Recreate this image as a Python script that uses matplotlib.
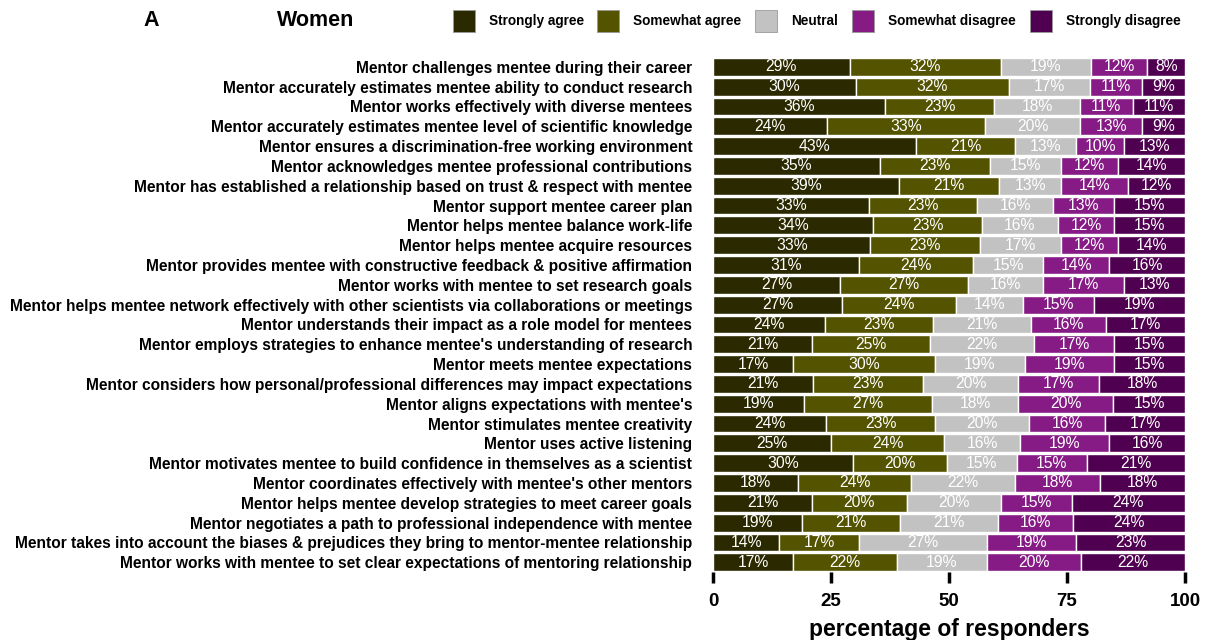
import numpy as np
import matplotlib
matplotlib.use("Agg")
import matplotlib.pyplot as plt
from matplotlib.patches import Rectangle

plt.rcParams['font.family'] = ['Liberation Sans', 'DejaVu Sans']

statements = [
    "Mentor challenges mentee during their career",
    "Mentor accurately estimates mentee ability to conduct research",
    "Mentor works effectively with diverse mentees",
    "Mentor accurately estimates mentee level of scientific knowledge",
    "Mentor ensures a discrimination-free working environment",
    "Mentor acknowledges mentee professional contributions",
    "Mentor has established a relationship based on trust & respect with mentee",
    "Mentor support mentee career plan",
    "Mentor helps mentee balance work-life",
    "Mentor helps mentee acquire resources",
    "Mentor provides mentee with constructive feedback & positive affirmation",
    "Mentor works with mentee to set research goals",
    "Mentor helps mentee network effectively with other scientists via collaborations or meetings",
    "Mentor understands their impact as a role model for mentees",
    "Mentor employs strategies to enhance mentee's understanding of research",
    "Mentor meets mentee expectations",
    "Mentor considers how personal/professional differences may impact expectations",
    "Mentor aligns expectations with mentee's",
    "Mentor stimulates mentee creativity",
    "Mentor uses active listening",
    "Mentor motivates mentee to build confidence in themselves as a scientist",
    "Mentor coordinates effectively with mentee's other mentors",
    "Mentor helps mentee develop strategies to meet career goals",
    "Mentor negotiates a path to professional independence with mentee",
    "Mentor takes into account the biases & prejudices they bring to mentor-mentee relationship",
    "Mentor works with mentee to set clear expectations of mentoring relationship",
]

responses = ["Strongly agree", "Somewhat agree", "Neutral",
             "Somewhat disagree", "Strongly disagree"]

strongly_agree = [29, 30, 36, 24, 43, 35, 39, 33, 34, 33, 31, 27, 27, 24, 21, 17,
                  21, 19, 24, 25, 30, 18, 21, 19, 14, 17]
somewhat_agree = [32, 32, 23, 33, 21, 23, 21, 23, 23, 23, 24, 27, 24, 23, 25, 30,
                  23, 27, 23, 24, 20, 24, 20, 21, 17, 22]
neutral = [19, 17, 18, 20, 13, 15, 13, 16, 16, 17, 15, 16, 14, 21, 22, 19,
           20, 18, 20, 16, 15, 22, 20, 21, 27, 19]
somewhat_disagree = [12, 11, 11, 13, 10, 12, 14, 13, 12, 12, 14, 17, 15, 16, 17, 19,
                     17, 20, 16, 19, 15, 18, 15, 16, 19, 20]
strongly_disagree = [8, 9, 11, 9, 13, 14, 12, 15, 15, 14, 16, 13, 19, 17, 15, 15,
                     18, 15, 17, 16, 21, 18, 24, 24, 23, 22]

colors = ["#2a2900", "#535300", "#c2c2c2", "#861b86", "#500050"]
xticks = [0, 25, 50, 75, 100]

values = np.array([strongly_agree, somewhat_agree, neutral,
                   somewhat_disagree, strongly_disagree], dtype=float)
# each row is shown as a share of all responses to that statement
shares = values / values.sum(axis=0) * 100

W, H = 1206, 640
fig = plt.figure(figsize=(W / 100, H / 100), dpi=100)
ax = fig.add_axes([0.5912, 0.106, 0.3914, 0.805])

y = np.arange(len(statements))
left = np.zeros(len(statements))
for k, name in enumerate(responses):
    ax.barh(y, shares[k], left=left, height=0.9, color=colors[k],
            edgecolor="white", linewidth=1.0, label=name)
    for i in range(len(statements)):
        ax.text(left[i] + shares[k, i] / 2, y[i], f"{int(values[k, i])}%",
                ha="center", va="center", color="white", fontsize=11.3)
    left += shares[k]

ax.set_ylim(len(statements) - 0.5, -0.5)
ax.set_xlim(0, 100)
ax.set_yticks(y)
ax.set_yticklabels(statements, fontsize=11.2, fontweight="bold")
ax.tick_params(axis="y", length=0, pad=15)
ax.set_xticks(xticks)
ax.set_xticklabels([str(t) for t in xticks], fontsize=13.5, fontweight="bold")
ax.tick_params(axis="x", length=8, width=2.5, direction="out", pad=7)
for s in ax.spines.values():
    s.set_visible(False)
ax.set_xlabel("percentage of responders", fontsize=16.5, fontweight="bold", labelpad=6)

fig.text(143 / W, 1 - 20 / H, "A", fontsize=15.5, fontweight="bold", va="center")
fig.text(277 / W, 1 - 20 / H, "Women", fontsize=15.5, fontweight="bold", va="center")

# legend keys laid out across the top
key_x = [453, 597, 755, 852, 1030]
for xk, c, name in zip(key_x, colors, responses):
    fig.patches.append(Rectangle((xk / W, 1 - 32 / H), 22 / W, 22 / H,
                                 transform=fig.transFigure, facecolor=c,
                                 edgecolor="#9a9a9a", linewidth=0.6))
    fig.text((xk + 36) / W, 1 - 21 / H, name, fontsize=9.8, fontweight="bold",
             va="center", ha="left")

fig.savefig("out.png", dpi=100)
